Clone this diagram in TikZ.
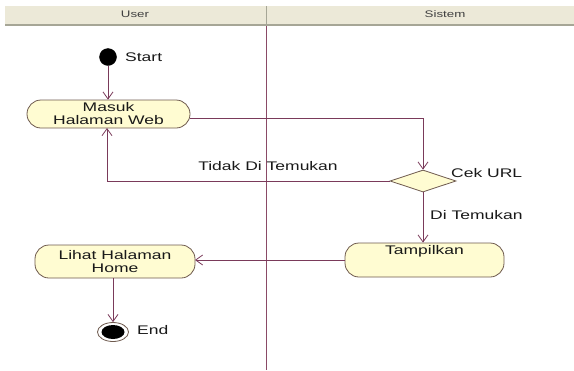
\documentclass[tikz,border=0pt]{standalone}
\usepackage{fontspec}
\setmainfont[FakeStretch=1.4]{Liberation Sans}
\usetikzlibrary{arrows.meta,shapes.geometric}
\definecolor{lnc}{HTML}{7A3A5A}
\definecolor{brd}{HTML}{6E5A4E}
\definecolor{fillc}{HTML}{FFFCD2}
\definecolor{hdr}{HTML}{ECE9D8}
\definecolor{hdrline}{HTML}{A6A696}
\definecolor{lane}{HTML}{8A4A66}
\begin{document}
\begin{tikzpicture}[x=1bp,y=-1bp,
  every node/.style={font=\fontsize{12.5bp}{13bp}\selectfont, text=black!90},
  activity/.style={draw=brd, fill=fillc, line width=0.8bp, rounded corners=14bp, inner sep=0pt, align=center},
  conn/.style={draw=lnc, line width=0.8bp, -{Straight Barb[length=7bp,width=10bp]}},
  plain/.style={draw=lnc, line width=0.8bp},
  lbl/.style={inner sep=0pt}]
\useasboundingbox (0,0) rectangle (574,370);
% header
\fill[hdr] (5,6) rectangle (574,24);
\fill[hdrline] (5,23.5) rectangle (574,26);
\draw[hdrline, line width=1bp] (266,6) -- (266,26);
\node[lbl, font=\fontsize{9.5bp}{11bp}\selectfont, text=black!75] (huser) at (135,14) {User};
\node[lbl, font=\fontsize{9.5bp}{11bp}\selectfont, text=black!75] (hsis) at (445,14) {Sistem};
% lane line
\draw[lane, line width=1bp] (266,26) -- (266,370);
% nodes
\node[fill=black, draw=black, circle, minimum size=17bp, inner sep=0pt] (start) at (108,57) {};
\node[lbl, anchor=west] (startl) at (125,57) {Start};
\node[activity, minimum width=163bp, minimum height=28bp] (masuk) at (108.5,114) {Masuk\\Halaman Web};
\node[draw=brd, fill=fillc, diamond, line width=0.8bp, minimum width=66bp, minimum height=22bp, inner sep=0pt, aspect=3] (cek) at (423,181) {};
\node[lbl, anchor=west] (cekl) at (451,173) {Cek URL};
\node[activity, minimum width=159bp, minimum height=34bp, label={[anchor=north, yshift=-3bp, inner sep=0pt]north:Tampilkan}] (tamp) at (424.5,260) {};
\node[activity, minimum width=160bp, minimum height=33bp] (lihat) at (115,261.5) {Lihat Halaman\\Home};
\node[draw=brd, fill=white, ellipse, minimum width=31bp, minimum height=19bp, line width=0.8bp, inner sep=0pt] (endo) at (113,332) {};
\node[fill=black, ellipse, minimum width=23bp, minimum height=14bp, inner sep=0pt] (endi) at (113,332) {};
\node[lbl, anchor=west] (endl) at (137,330) {End};
% coordinates
\coordinate (m1) at (190,118);
\coordinate (m2) at (423,118);
\coordinate (t1) at (107,181);
\coordinate (t2) at (107,128);
\coordinate (a1) at (345,260);
\coordinate (a2) at (195,260);
% connectors
\draw[conn] (start.south) -- (masuk.north -| start.south);
\draw[conn] (m1) -- (m2) -- (cek.north);
\draw[conn] (cek.west) -- (t1) -- (t2);
\node[lbl] (tidak) at (268,166) {Tidak Di Temukan};
\draw[conn] (cek.south) -- (tamp.north -| cek.south);
\node[lbl, anchor=west] (ditem) at (430,215) {Di Temukan};
\draw[conn] (a1) -- (a2);
\draw[conn] (lihat.south -| endo.north) -- (endo.north);
\end{tikzpicture}
\end{document}
